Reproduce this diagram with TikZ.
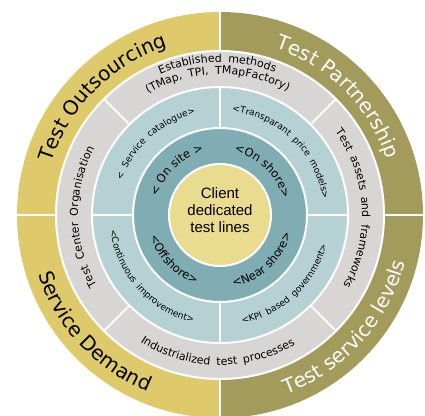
\documentclass[tikz,border=0pt]{standalone}
\usepackage{fontspec}
\setmainfont{DejaVu Sans}
\newfontfamily\hubfont{Liberation Sans}
\newfontfamily\widefont[WordSpace=1.8]{DejaVu Sans}
\usepackage{tikz}
\usetikzlibrary{decorations.text}

\definecolor{ochre}{RGB}{222,202,106}
\definecolor{moss}{RGB}{163,155,91}
\definecolor{stone}{RGB}{216,214,212}
\definecolor{mist}{RGB}{181,209,211}
\definecolor{lagoon}{RGB}{128,173,179}
\definecolor{hubyellow}{RGB}{233,220,143}

\def\SizeOuter{\fontsize{20}{24}\selectfont}
\def\SizeGray{\widefont\fontsize{11}{13}\selectfont}
\def\SizeMist{\widefont\fontsize{9}{11}\selectfont}
\def\SizeLagoon{\fontsize{11.5}{13}\selectfont}
% clockwise arc: letters stand outward
\def\ArcTop#1#2#3{\path[decorate,decoration={text along path,text align=center,text={#3}}]
    (#1+80:#2) arc[start angle=#1+80, end angle=#1-80, radius=#2];}
% counter-clockwise arc: letters stand inward
\def\ArcBot#1#2#3{\path[decorate,decoration={text along path,text align=center,text={#3}}]
    (#1-80:#2) arc[start angle=#1-80, end angle=#1+80, radius=#2];}

\begin{document}
\begin{tikzpicture}[x=1pt,y=1pt]
    \tikzset{
      seam/.style={
        white,
        line width=2pt,
      },
      hub/.style={
        font=\hubfont\fontsize{15}{17}\selectfont,
        align=center,
        % inner sep=0pt,
      }
    }

    \pgfmathsetmacro{\RadA}{203}
    \pgfmathsetmacro{\RadB}{164}
    \pgfmathsetmacro{\RadC}{128}
    \pgfmathsetmacro{\RadD}{87}
    \pgfmathsetmacro{\RadE}{51}

    \useasboundingbox (-220,-200) rectangle (205,215);

    % rings
    \fill[ochre] (0,0) -- (90:\RadA) arc[start angle=90, end angle=270, radius=\RadA] -- cycle;
    \fill[moss] (0,0) -- (-90:\RadA) arc[start angle=-90, end angle=90, radius=\RadA] -- cycle;
    \fill[stone] (0,0) circle[radius=\RadB];
    \fill[mist] (0,0) circle[radius=\RadC];
    \fill[lagoon] (0,0) circle[radius=\RadD];
    \fill[hubyellow] (0,0) circle[radius=\RadE];

    % seams
    \foreach \r in {\RadB,\RadC,\RadD,\RadE}
        \draw[seam] (0,0) circle[radius=\r];
    \foreach \a in {0,90,180,270} {
        \draw[seam] (\a:\RadB) -- (\a:\RadA);
        \draw[seam] (\a:\RadD) -- (\a:\RadC);
    }
    \foreach \a in {45,135,225,315}
        \draw[seam] (\a:\RadC) -- (\a:\RadB);

    % outer ring
    \ArcTop{135}{176}{|\SizeOuter|Test Outsourcing}
    \ArcTop{45}{176}{|\color{white}\SizeOuter|Test Partnership}
    \ArcBot{223}{191}{|\SizeOuter|Service Demand}
    \ArcBot{318}{191}{|\color{white}\SizeOuter|Test service levels}

    % gray ring
    \ArcTop{91}{153}{|\SizeGray|Established methods}
    \ArcTop{91}{141}{|\SizeGray|(TMap, TPI, TMapFactory)}
    \ArcTop{3}{142}{|\SizeGray|Test assets and frameworks}
    \ArcTop{181}{142}{|\SizeGray|Test Center Organisation}
    \ArcBot{269}{150}{|\SizeGray|Industrialized test processes}

    % light ring
    \ArcTop{132}{104}{|\SizeMist|< Service catalogue>}
    \ArcTop{46}{104}{|\SizeMist|<Transparant price models>}
    \ArcBot{222}{111}{|\SizeMist|<Continuous improvement>}
    \ArcBot{313}{111}{|\SizeMist|<KPI based government>}

    % dark ring
    \ArcTop{134}{65}{|\SizeLagoon|< On site >}
    \ArcTop{46}{65}{|\SizeLagoon|<On shore>}
    \ArcBot{224}{73}{|\SizeLagoon|<Offshore>}
    \ArcBot{313}{73}{|\SizeLagoon|<Near shore>}

    \node[hub] (client) at (0,5) {Client\\dedicated\\test lines};
\end{tikzpicture}
\end{document}
